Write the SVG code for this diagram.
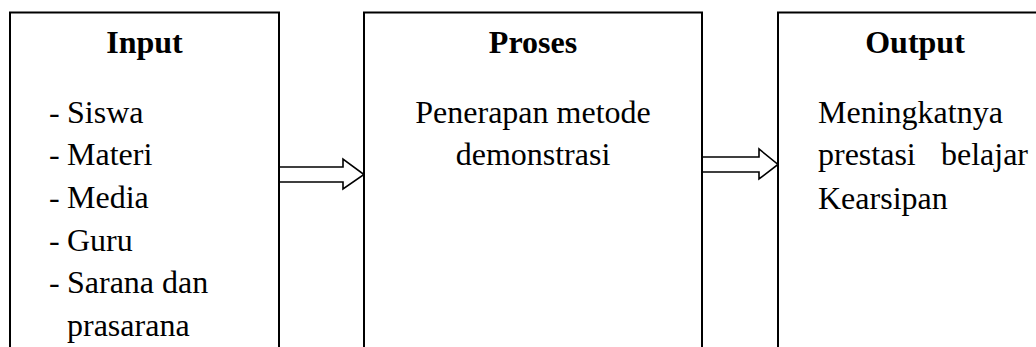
<svg xmlns="http://www.w3.org/2000/svg" width="1036" height="347" viewBox="0 0 1036 347">
  <style>
    .box { fill: #fff; stroke: #000; stroke-width: 2; }
    .arrow { fill: #fff; stroke: #000; stroke-width: 1.6; stroke-linejoin: miter; }
    .head { font-family: "Liberation Serif", "Times New Roman", serif; font-size: 32px; font-weight: bold; fill: #000; text-anchor: middle; }
    .body { font-family: "Liberation Serif", "Times New Roman", serif; font-size: 32px; fill: #000; }
    .mid { text-anchor: middle; }
    .end { text-anchor: end; }
  </style>
  <rect width="1036" height="347" fill="#fff"/>

  <g id="connectors">
    <polygon class="arrow" points="279,167 343,167 343,159 364,174.5 343,189 343,182 279,182"/>
    <polygon class="arrow" points="702,157 759,157 759,149 778,164.5 759,179 759,172 702,172"/>
  </g>

  <g id="input">
    <rect class="box" x="10" y="12.5" width="269" height="345"/>
    <text class="head" x="144.5" y="53">Input</text>
    <text class="body" x="49" y="122.5">-</text>
    <text class="body" x="67" y="122.5">Siswa</text>
    <text class="body" x="49" y="165.2">-</text>
    <text class="body" x="67" y="165.2">Materi</text>
    <text class="body" x="49" y="207.9">-</text>
    <text class="body" x="67" y="207.9">Media</text>
    <text class="body" x="49" y="250.6">-</text>
    <text class="body" x="67" y="250.6">Guru</text>
    <text class="body" x="49" y="293.3">-</text>
    <text class="body" x="67" y="293.3">Sarana dan</text>
    <text class="body" x="67" y="336">prasarana</text>
  </g>

  <g id="proses">
    <rect class="box" x="364" y="12.5" width="338" height="345"/>
    <text class="head" x="533" y="53">Proses</text>
    <text class="body mid" x="533" y="122.5">Penerapan metode</text>
    <text class="body mid" x="533" y="165.2">demonstrasi</text>
  </g>

  <g id="output">
    <rect class="box" x="778" y="12.5" width="274" height="345"/>
    <text class="head" x="915" y="53">Output</text>
    <text class="body" x="818" y="122.5">Meningkatnya</text>
    <text class="body" x="818" y="165.2">prestasi</text>
    <text class="body end" x="1028" y="165.2">belajar</text>
    <text class="body" x="818" y="209">Kearsipan</text>
  </g>
</svg>
